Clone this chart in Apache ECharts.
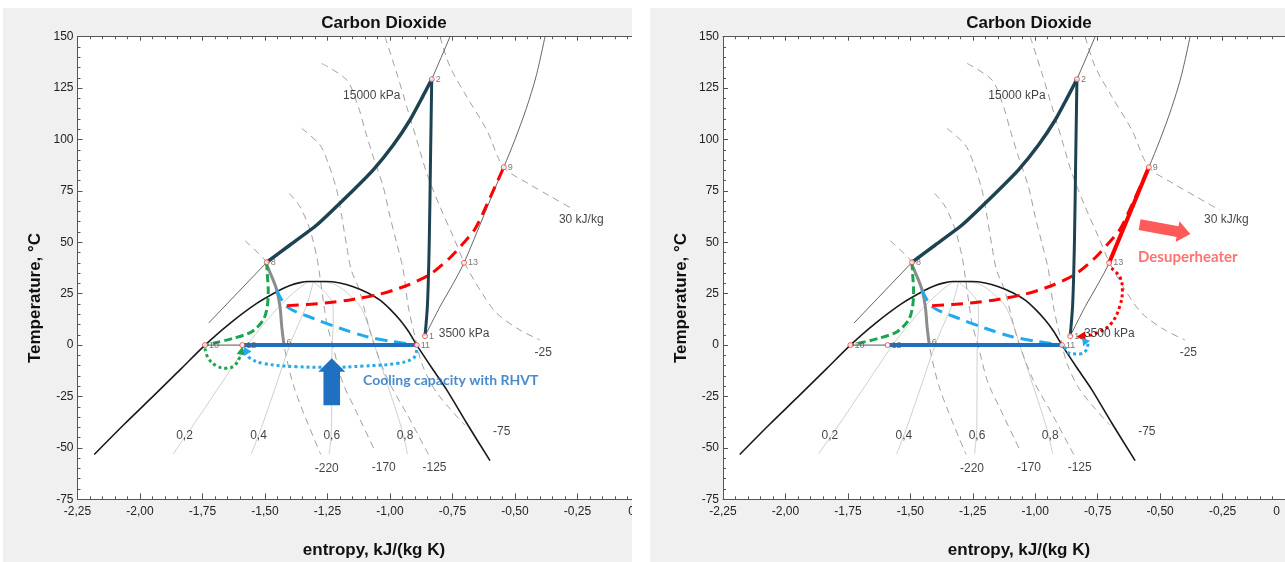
<!DOCTYPE html>
<html><head><meta charset="utf-8">
<script src="https://cdn.jsdelivr.net/npm/echarts/dist/echarts.min.js"></script>
<style>html,body{margin:0;padding:0;background:#fff}#c{width:1285px;height:562px}</style>
</head><body><div id="c"></div>
<script>
// ---------- DATA (entropy kJ/(kg K), temperature °C) ----------
const satDome = [[-2.183,-53.2],[-2.063,-38.5],[-1.94,-24],[-1.834,-11.3],[-1.74,0],[-1.64,10.6],[-1.533,20.3],[-1.44,26.8],[-1.40,29],[-1.36,30.4],[-1.33,30.9],[-1.255,30.9],[-1.2,30.2],[-1.147,28.4],[-1.09,25.5],[-1.04,21.9],[-1.0,17.5],[-0.96,12.2],[-0.925,6.5],[-0.893,0],[-0.827,-12.1],[-0.773,-21.8],[-0.693,-38],[-0.60,-56.2]];
const isobar15000Low = [[-1.725,10.8],[-1.493,40.3]];
const isobar15000High = [[-0.833,129.3],[-0.795,140],[-0.76,150]];
const isobar3500 = [[-0.86,4.4],[-0.80,18.7],[-0.747,30],[-0.704,40],[-0.625,63],[-0.545,86.5],[-0.50,100],[-0.455,115],[-0.415,131],[-0.38,150]];
const gasCooler = [[-1.493,40.3],[-1.40,48.7],[-1.293,58.4],[-1.153,74.6],[-1.067,85.2],[-0.987,97.3],[-0.92,109.5],[-0.873,120],[-0.833,129.3]];
const compression = [[-0.833,129.3],[-0.838,90],[-0.843,50],[-0.85,20],[-0.86,4.4]];
const evapThin = [[-1.74,0],[-1.591,0]];
const evapBlue = [[-1.585,0],[-0.893,0]];
const expansion = [[-1.496,39.5],[-1.473,33.3],[-1.453,26.8],[-1.44,18.7],[-1.433,9],[-1.424,0]];
const greenDashed = [[-1.493,40.3],[-1.491,34.9],[-1.487,26.8],[-1.491,18.7],[-1.507,12.2],[-1.553,6.5],[-1.627,3.3],[-1.707,0.9],[-1.74,0]];
const blueDashed = [[-1.453,26.8],[-1.413,18.7],[-1.307,13],[-1.20,8.2],[-1.093,4.1],[-0.987,1.7],[-0.907,0.3]];
const redDashed = [[-1.413,19.2],[-1.33,19.8],[-1.25,20.6],[-1.15,22.2],[-1.04,24.8],[-0.955,28],[-0.88,31.8],[-0.827,35.5],[-0.76,42.5],[-0.707,49.5],[-0.66,56.5],[-0.61,69],[-0.545,86.5]];
const greenDotted = [[-1.74,-1.6],[-1.727,-6.4],[-1.693,-10.2],[-1.653,-11.3],[-1.62,-9.7],[-1.60,-5.6],[-1.594,-2.8]];
const greenDottedTip = [[-1.597,-5.5,-1.591,-0.8]];
const blueDotted = [[-0.893,-2.4],[-0.907,-6.4],[-0.973,-8.9],[-1.107,-10.2],[-1.24,-10.8],[-1.373,-10.5],[-1.507,-8.9],[-1.56,-6.4],[-1.575,-3.8]];
const blueDottedTip = [[-1.562,-5.8,-1.585,-0.8]];
const desuperRed = [[-0.704,40],[-0.545,86.5]];
const redDotted = [[-0.695,37.4],[-0.662,33.3],[-0.651,26.8],[-0.662,18.7],[-0.695,10.6],[-0.742,6.5],[-0.795,4.3]];
const redDottedTip = [[-0.79,4.3,-0.835,4.1]];
const blueLoop = [[-0.882,-0.8],[-0.862,-4],[-0.822,-4.3],[-0.795,-2.4],[-0.789,0.6]];
const blueLoopTip = [[-0.789,0,-0.812,3.4]];
const h220 = [[-1.58,50.7],[-1.493,40.3],[-1.473,33.3],[-1.453,26.8],[-1.44,18.7],[-1.424,0],[-1.38,-21.9],[-1.277,-53.2]];
const h170 = [[-1.403,73.8],[-1.36,67.3],[-1.32,56],[-1.293,43],[-1.28,33],[-1.265,20],[-1.253,10.7],[-1.225,-2],[-1.19,-18],[-1.139,-31.3],[-1.058,-52]];
const h125 = [[-1.353,105.4],[-1.28,97.3],[-1.247,88.4],[-1.213,75.4],[-1.193,62.5],[-1.173,47.9],[-1.155,36.5],[-1.123,26.9],[-1.074,4.3],[-1.009,-16.7],[-0.928,-34.5],[-0.846,-53.2]];
const h75 = [[-1.273,137],[-1.173,128.9],[-1.127,116],[-1.10,104.6],[-1.067,91.6],[-1.027,77],[-1.0,62.5],[-0.973,49.5],[-0.947,36.5],[-0.927,18.7],[-0.90,4.1],[-0.873,-8.9],[-0.825,-21],[-0.76,-31],[-0.70,-39]];
const h25 = [[-1.02,150],[-0.973,132.2],[-0.933,116],[-0.893,99.8],[-0.853,83.6],[-0.80,67.3],[-0.747,52.7],[-0.704,40.5],[-0.64,26.8],[-0.573,15.5],[-0.48,7.3],[-0.40,2.5]];
const h30 = [[-0.80,150],[-0.76,135.4],[-0.693,120.8],[-0.613,104.6],[-0.545,86.5],[-0.449,78.7],[-0.356,72.2],[-0.262,65.7]];
const q2 = [[-1.307,30.8],[-1.339,30],[-1.434,20],[-1.506,10],[-1.571,0],[-1.682,-20],[-1.793,-40],[-1.868,-53]];
const q4 = [[-1.307,30.8],[-1.331,20],[-1.367,10],[-1.401,0],[-1.457,-20],[-1.514,-40],[-1.555,-53]];
const q6 = [[-1.307,30.8],[-1.229,20],[-1.227,10],[-1.232,0],[-1.233,-20],[-1.234,-40],[-1.243,-53]];
const q8 = [[-1.307,30.8],[-1.231,30],[-1.126,20],[-1.088,10],[-1.062,0],[-1.008,-20],[-0.955,-40],[-0.930,-53]];
const statePoints = [[-0.86,4.4,'1'],[-0.833,129.3,'2'],[-1.493,40.3,'8'],[-0.545,86.5,'9'],[-1.74,0,'10'],[-0.893,0,'11'],[-1.591,0,'12'],[-0.704,40,'13']];
const labelOnlyPoints = [[-1.424,1.5,'6']];
const chartLabels = [[-1.073,121.3,'15000 kPa'],[-0.235,60.8,'30 kJ/kg'],[-1.253,-60,'-220'],[-1.025,-59.6,'-170'],[-0.822,-59.6,'-125'],[-0.553,-42,'-75'],[-0.387,-3.7,'-25'],[-1.822,-44.3,'0,2'],[-1.526,-44.3,'0,4'],[-1.233,-44.3,'0,6'],[-0.94,-44.3,'0,8']];
const leftLabels = [[-0.807,5.4,'3500 kPa']];
const coolingText = [[-0.757,-17,'Cooling capacity with RHVT']];
const desuperText = [[-0.389,43,'Desuperheater']];
const coolingArrow = [[-1.233,-29.2,-1.233,-6.4]];
const desuperArrow = [[-0.582,58.6,-0.379,54.0]];
const xMin = -2.25, xMax = 0, xStep = 0.25;
const yMin = -75, yMax = 150, yStep = 25;
const titleText = 'Carbon Dioxide';
const xTitle = 'entropy, kJ/(kg K)';
const yTitle = 'Temperature, °C';

// ---------- BUILD ----------
const FONT = 'Liberation Sans, Arial, sans-serif';
const AX = '#555';
function xFmt(v){ return Math.abs(v) < 1e-9 ? '{z|0}' : v.toFixed(2).replace('.', ','); }

function line(gi, data, color, width, type, z, smooth){
  return {type:'line', xAxisIndex: gi*2, yAxisIndex: gi, data: data, symbol:'none', showSymbol:false,
    smooth: smooth || false, silent:true, z: z || 2,
    lineStyle:{color: color, width: width, type: type || 'solid', cap:'butt', join:'round'}};
}
function arrowHead(gi, data, color, len, half){
  return {type:'custom', xAxisIndex: gi*2, yAxisIndex: gi, data: data, z: 7, silent:true,
    renderItem: function(params, api){
      const a = api.coord([api.value(0), api.value(1)]);
      const b = api.coord([api.value(2), api.value(3)]);
      const dx=b[0]-a[0], dy=b[1]-a[1]; const L=Math.hypot(dx,dy)||1; const ux=dx/L, uy=dy/L;
      const bx=b[0]-ux*len, by=b[1]-uy*len;
      return {type:'polygon', shape:{points:[[b[0],b[1]],[bx-uy*half,by+ux*half],[bx+uy*half,by-ux*half]]}, style:{fill:color}};
    }};
}
function blockArrow(gi, data, color, sh, hh, hl){
  return {type:'custom', xAxisIndex: gi*2, yAxisIndex: gi, data: data, z: 7, silent:true,
    renderItem: function(params, api){
      const a = api.coord([api.value(0), api.value(1)]);
      const b = api.coord([api.value(2), api.value(3)]);
      const dx=b[0]-a[0], dy=b[1]-a[1]; const L=Math.hypot(dx,dy)||1; const ux=dx/L, uy=dy/L;
      const nx=-uy, ny=ux;
      const hx=b[0]-ux*hl, hy=b[1]-uy*hl;
      const pts=[[a[0]+nx*sh,a[1]+ny*sh],[hx+nx*sh,hy+ny*sh],[hx+nx*hh,hy+ny*hh],[b[0],b[1]],[hx-nx*hh,hy-ny*hh],[hx-nx*sh,hy-ny*sh],[a[0]-nx*sh,a[1]-ny*sh]];
      return {type:'polygon', shape:{points:pts}, style:{fill:color}};
    }};
}
function texts(gi, data, font, pos, extra){
  return {type:'scatter', xAxisIndex: gi*2, yAxisIndex: gi, data: data, symbolSize:1, silent:true, z: 8,
    itemStyle:{color:'rgba(0,0,0,0)'},
    label: Object.assign({show:true, position: pos || 'inside', distance:0, formatter: p => p.data[2]}, font, extra||{})};
}

const series = [];
const GRAY_DASH = '#a0a0a0';
for (let gi = 0; gi < 2; gi++) {
  [q2,q4,q6,q8].forEach(q => series.push(line(gi, q, '#cfcfcf', 1, 'solid', 1, 0.3)));
  [h220,h170,h125,h75,h25,h30].forEach(h => series.push(line(gi, h, GRAY_DASH, 1, [7,5], 1, 0.3)));
  series.push(line(gi, satDome, '#1a1a1a', 1.6, 'solid', 2, 0.25));
  series.push(line(gi, isobar15000Low, '#555', 0.9, 'solid', 2));
  series.push(line(gi, isobar15000High, '#555', 0.9, 'solid', 2));
  series.push(line(gi, isobar3500, '#555', 0.9, 'solid', 2, 0.3));
  series.push(line(gi, evapThin, '#555', 1, 'solid', 2));
  series.push(line(gi, expansion, '#8c8c8c', 3, 'solid', 3, 0.3));
  series.push(line(gi, greenDashed, '#1aa64e', 3, [8,4], 4, 0.3));
  series.push(line(gi, blueDashed, '#22aaee', 3, [12,7], 4, 0.3));
  series.push(line(gi, redDashed, '#ff0000', 3, [12,7], 4, 0.3));
  series.push(line(gi, gasCooler, '#1d4252', 3.5, 'solid', 5, 0.15));
  series.push(line(gi, compression, '#1d4252', 3, 'solid', 5, 0.3));
  series.push(line(gi, evapBlue, '#1f70c1', 4, 'solid', 5));
  if (gi === 0) {
    series.push(line(gi, greenDotted, '#1aa64e', 3, [3,3], 5, 0.4));
    series.push(arrowHead(gi, greenDottedTip, '#1aa64e', 8, 4.5));
    series.push(line(gi, blueDotted, '#22aaee', 3, [3,3], 5, 0.4));
    series.push(arrowHead(gi, blueDottedTip, '#22aaee', 8, 4.5));
    series.push(blockArrow(gi, coolingArrow, '#1f70c1', 8.3, 13.5, 13.5));
    series.push(texts(gi, coolingText, {fontFamily:'Lato, sans-serif', fontSize:14, fontWeight:'bold', color:'#1c6cc0'}));
  } else {
    series.push(line(gi, desuperRed, '#ff0000', 4, 'solid', 6));
    series.push(line(gi, redDotted, '#ff0000', 3, [3,3], 5, 0.4));
    series.push(arrowHead(gi, redDottedTip, '#ff0000', 9, 5));
    series.push(line(gi, blueLoop, '#22aaee', 3, [3,3], 5, 0.4));
    series.push(arrowHead(gi, blueLoopTip, '#22aaee', 7, 4.5));
    series.push(blockArrow(gi, desuperArrow, '#ff5a5a', 5.5, 10.5, 13));
    series.push(texts(gi, desuperText, {fontFamily:'Lato, sans-serif', fontSize:15, fontWeight:'bold', color:'#ff4f4f'}));
  }
  series.push({type:'scatter', xAxisIndex: gi*2, yAxisIndex: gi, data: statePoints, symbol:'circle', symbolSize:5, z: 9, silent:true,
    itemStyle:{color:'#fff', borderColor:'#e83a3a', borderWidth:1},
    label:{show:true, position:'right', distance:1, formatter: p => p.data[2], fontFamily: FONT, fontSize:9, color:'#555'}});
  series.push(texts(gi, labelOnlyPoints, {fontFamily: FONT, fontSize:9, color:'#555'}, 'right', {distance:2}));
  series.push(texts(gi, chartLabels, {fontFamily: FONT, fontSize:12, color:'#111'}));
  series.push(texts(gi, leftLabels, {fontFamily: FONT, fontSize:12, color:'#111'}, 'right'));
}

function xAxisFor(gi, pos){
  const top = pos === 'top';
  return {gridIndex: gi, type:'value', position: pos, min: xMin, max: xMax, interval: xStep,
    axisLine:{show:true, onZero:false, lineStyle:{color:AX, width:1}},
    axisTick:{show:true, inside:true, length: top?4:6, lineStyle:{color:AX}},
    minorTick:{show:true, splitNumber:5, length: top?2.5:3, lineStyle:{color:AX}},
    splitLine:{show:false}, minorSplitLine:{show:false},
    axisLabel:{show: !top, fontFamily: FONT, fontSize:12, color:'#222', margin:6, formatter: xFmt,
      rich:{z:{padding:[0,17,0,0], fontFamily: FONT, fontSize:12, color:'#222'}}}};
}
function yAxisFor(gi){
  return {gridIndex: gi, type:'value', min: yMin, max: yMax, interval: yStep,
    axisLine:{show:true, onZero:false, lineStyle:{color:AX, width:1}},
    axisTick:{show:true, inside:true, length:5, lineStyle:{color:AX}},
    minorTick:{show:true, splitNumber:5, length:3, lineStyle:{color:AX}},
    splitLine:{show:false},
    axisLabel:{fontFamily: FONT, fontSize:12, color:'#222', margin:4}};
}

const panelLefts = [77.5, 723];
const grids = panelLefts.map(l => ({left:l, top:36.7, width:562.5, height:462.6, show:true, backgroundColor:'#fff', borderWidth:0}));
const xAxes = [], yAxes = [];
for (let gi=0; gi<2; gi++){ xAxes.push(xAxisFor(gi,'bottom')); xAxes.push(xAxisFor(gi,'top')); yAxes.push(yAxisFor(gi)); }

const graphics = [
  {type:'rect', z:-10, shape:{x:3, y:8, width:629, height:554}, style:{fill:'#f0f0f0'}},
  {type:'rect', z:-10, shape:{x:650, y:8, width:635, height:554}, style:{fill:'#f0f0f0'}},
  {type:'rect', z:100, shape:{x:632, y:0, width:18, height:562}, style:{fill:'#fff'}}
];
[[384, 23, 35, 298, 374, 550], [1029, 23, 681, 298, 1019, 550]].forEach(p => {
  graphics.push({type:'text', z:50, x:p[0], y:p[1], style:{text:titleText, font:'bold 17px '+FONT, fill:'#111', textAlign:'center', textVerticalAlign:'middle'}});
  graphics.push({type:'text', z:50, x:p[2], y:p[3], rotation:Math.PI/2, style:{text:yTitle, font:'bold 17px '+FONT, fill:'#111', textAlign:'center', textVerticalAlign:'middle'}});
  graphics.push({type:'text', z:50, x:p[4], y:p[5], style:{text:xTitle, font:'bold 17px '+FONT, fill:'#111', textAlign:'center', textVerticalAlign:'middle'}});
});

const chart = echarts.init(document.getElementById('c'), null, {renderer:'canvas'});
chart.setOption({
  animation:false,
  backgroundColor:'#fff',
  grid: grids, xAxis: xAxes, yAxis: yAxes, series: series, graphic: graphics
});
</script></body></html>
